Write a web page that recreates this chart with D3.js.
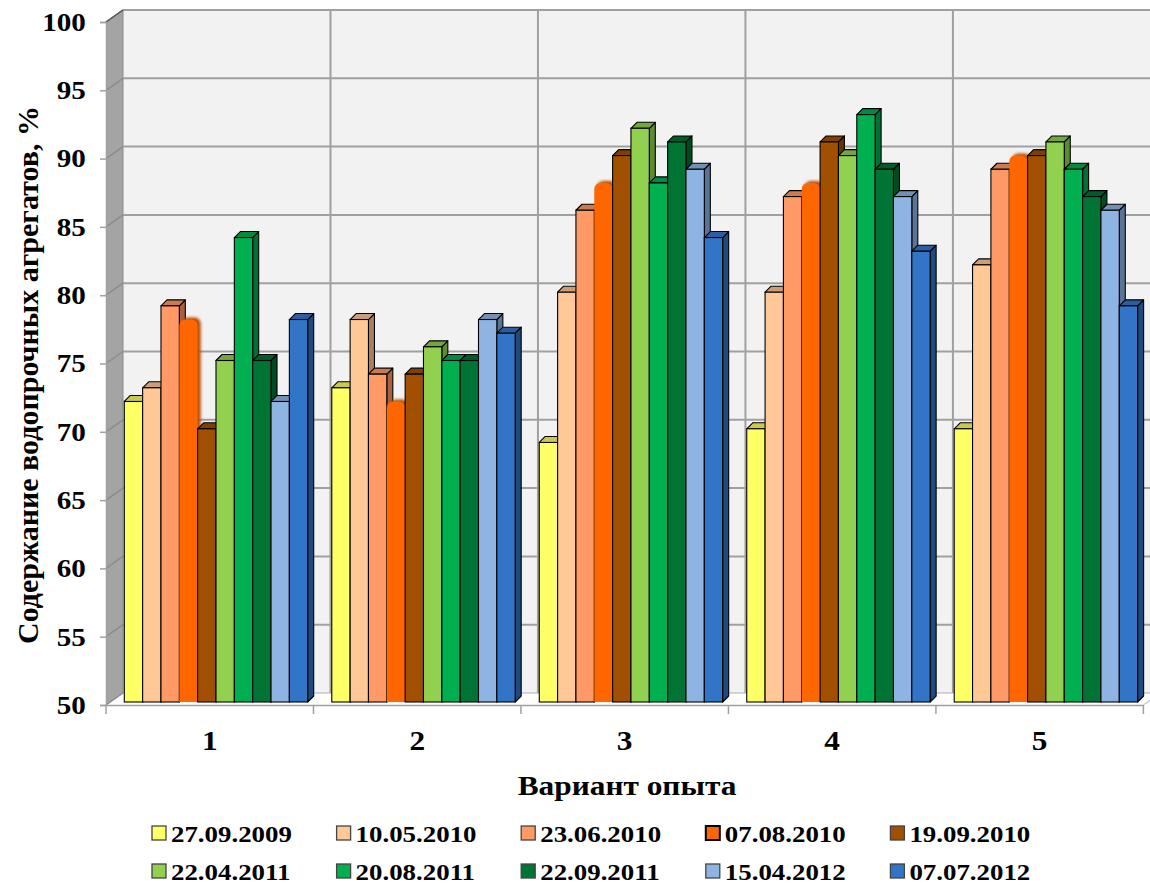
<!DOCTYPE html>
<html>
<head>
<meta charset="utf-8">
<script src="https://cdn.jsdelivr.net/npm/d3@7/dist/d3.min.js"></script>
<style>
  html, body { margin: 0; padding: 0; background: #ffffff; }
  svg { display: block; }
  text { font-family: "Liberation Serif", "Times New Roman", Times, serif; font-weight: bold; fill: #000; }
</style>
</head>
<body>
<svg id="chart" width="1150" height="885"></svg>
<script>
// ---- data ----
const categories = ["1", "2", "3", "4", "5"];
const seriesNames = ["27.09.2009", "10.05.2010", "23.06.2010", "07.08.2010", "19.09.2010",
                     "22.04.2011", "20.08.2011", "22.09.2011", "15.04.2012", "07.07.2012"];
const v_27_09_2009 = [72, 73, 69, 70, 70];
const v_10_05_2010 = [73, 78, 80, 80, 82];
const v_23_06_2010 = [79, 74, 86, 87, 89];
const v_07_08_2010 = [78, 72, 88, 88, 90];
const v_19_09_2010 = [70, 74, 90, 91, 90];
const v_22_04_2011 = [75, 76, 92, 90, 91];
const v_20_08_2011 = [84, 75, 88, 93, 89];
const v_22_09_2011 = [75, 75, 91, 89, 87];
const v_15_04_2012 = [72, 78, 89, 87, 86];
const v_07_07_2012 = [78, 77, 84, 83, 79];
const yTicks = [50, 55, 60, 65, 70, 75, 80, 85, 90, 95, 100];
const yTitle = "Содержание водопрочных агрегатов, %";
const xTitle = "Вариант опыта";

const seriesValues = [v_27_09_2009, v_10_05_2010, v_23_06_2010, v_07_08_2010, v_19_09_2010,
                      v_22_04_2011, v_20_08_2011, v_22_09_2011, v_15_04_2012, v_07_07_2012];

// face colours: front, top, side
const palette = [
  ["#FFFF66", "#C9C94E", "#A3A33A"],
  ["#FFC896", "#CC9E76", "#A88060"],
  ["#FF9966", "#CC7A50", "#A86040"],
  ["#FF6600", "#E05A00", "#B84A00"],
  ["#A05000", "#7E3F00", "#663300"],
  ["#92D050", "#74A640", "#5E8A32"],
  ["#00B050", "#008C40", "#007034"],
  ["#007434", "#005C29", "#004A20"],
  ["#8DB4E2", "#7090B4", "#5A7496"],
  ["#3274C6", "#2A5EA0", "#1F4A80"]
];

const svg = d3.select("#chart");
const SX = 1.12;                     // horizontal text stretch
const fontFam = '"Liberation Serif", "Times New Roman", Times, serif';

// ---- scales ----
const y = d3.scaleLinear().domain([50, 100]).range([705, 22]);
const x = d3.scaleBand().domain(categories).range([106, 1143.4]);
const xs = d3.scaleBand().domain(seriesNames).range([18.3, 201.7]);

// 3D offsets
const wallDX = 17, wallDY = -12;   // back wall relative to front plane
const barDX = 0, barDY = -3;       // bar front plane
const depDX = 6, depDY = -6;       // bar depth

const xEnd = x.range()[1];

// ---- walls ----
const walls = svg.append("g");
walls.append("rect")
  .attr("x", x.range()[0] + wallDX).attr("y", y(100) + wallDY)
  .attr("width", 1150 - (x.range()[0] + wallDX) + 5)
  .attr("height", y(50) - y(100))
  .attr("fill", "#F2F2F2");
walls.append("path")
  .attr("d", d3.line()([[106, y(100)], [106 + wallDX, y(100) + wallDY],
                        [106 + wallDX, y(50) + wallDY], [106, y(50)]]))
  .attr("fill", "#A4A4A4").attr("stroke", "#8A8A8A").attr("stroke-width", 1);
walls.append("path")
  .attr("d", d3.line()([[106, y(50)], [106 + wallDX, y(50) + wallDY],
                        [xEnd + wallDX, y(50) + wallDY], [xEnd, y(50)]]))
  .attr("fill", "#FFFFFF").attr("stroke", "#B0B0B0").attr("stroke-width", 1);

walls.selectAll("line.hgrid").data(yTicks.slice(1)).join("line")
  .attr("class", "hgrid")
  .attr("x1", 106 + wallDX).attr("x2", 1150)
  .attr("y1", d => y(d) + wallDY).attr("y2", d => y(d) + wallDY)
  .attr("stroke", "#A0A0A0").attr("stroke-width", 2);
walls.selectAll("line.sgrid").data(yTicks).join("line")
  .attr("class", "sgrid")
  .attr("x1", 106).attr("x2", 106 + wallDX)
  .attr("y1", d => y(d)).attr("y2", d => y(d) + wallDY)
  .attr("stroke", "#8C8C8C").attr("stroke-width", 1.5);
walls.selectAll("line.vgrid").data(categories.slice(1)).join("line")
  .attr("class", "vgrid")
  .attr("x1", d => x(d) + wallDX).attr("x2", d => x(d) + wallDX)
  .attr("y1", y(100) + wallDY).attr("y2", y(50) + wallDY)
  .attr("stroke", "#A0A0A0").attr("stroke-width", 2);
walls.append("line")
  .attr("x1", 106).attr("y1", y(100)).attr("x2", 106 + wallDX).attr("y2", y(100) + wallDY)
  .attr("stroke", "#555").attr("stroke-width", 1.5);

// ---- y axis ----
const yAxis = d3.axisLeft(y).tickValues(yTicks).tickSize(6).tickPadding(12)
  .tickFormat(d3.format("d"));
const gy = svg.append("g").attr("transform", "translate(106,0)").call(yAxis);
gy.select(".domain").attr("stroke", "#A0A0A0").attr("stroke-width", 1.5);
gy.selectAll(".tick line").attr("stroke", "#A0A0A0").attr("stroke-width", 1.5);
gy.selectAll(".tick text")
  .attr("font-family", fontFam).attr("font-weight", "bold").attr("font-size", 26)
  .attr("fill", "#000")
  .attr("transform", `scale(${SX},1)`);

// ---- x axis ----
const gx = svg.append("g").attr("transform", `translate(0,${y(50)})`)
  .call(d3.axisBottom(x).tickSize(0).tickPadding(25));
gx.select(".domain").attr("stroke", "#A0A0A0").attr("stroke-width", 1.5);
gx.selectAll(".tick text")
  .attr("font-family", fontFam).attr("font-weight", "bold").attr("font-size", 28)
  .attr("fill", "#000")
  .attr("transform", `scale(${SX},1)`);
const bounds = categories.map(c => x(c)).concat([xEnd]);
gx.selectAll("line.btick").data(bounds).join("line")
  .attr("class", "btick")
  .attr("x1", d => d).attr("x2", d => d).attr("y1", 0).attr("y2", 9)
  .attr("stroke", "#A0A0A0").attr("stroke-width", 1.5);

// ---- bars ----
const defs = svg.append("defs");
defs.append("filter").attr("id", "soft").attr("x", "-50%").attr("y", "-20%")
  .attr("width", "200%").attr("height", "140%")
  .append("feGaussianBlur").attr("stdDeviation", 1.6);

const barsG = svg.append("g");
const bw = xs.bandwidth();
const yBottom = y(50) + barDY;

categories.forEach((cat, ci) => {
  seriesNames.forEach((s, si) => {
    const v = seriesValues[si][ci];
    const x0 = x(cat) + xs(s) + barDX;
    const x1 = x0 + bw;
    const top = y(v) + barDY;
    const [cFront, cTop, cSide] = palette[si];
    const g = barsG.append("g");
    if (si === 3) {
      // rounded, outline-free bar with a soft shaded edge
      const r = 6;
      const rounded = (ox, oy) => {
        const p = d3.path();
        p.moveTo(x0 + ox, yBottom + oy);
        p.lineTo(x0 + ox, top + r + oy);
        p.arcTo(x0 + ox, top + oy, x0 + r + ox, top + oy, r);
        p.lineTo(x1 - r + ox, top + oy);
        p.arcTo(x1 + ox, top + oy, x1 + ox, top + r + oy, r);
        p.lineTo(x1 + ox, yBottom + oy);
        p.closePath();
        return p.toString();
      };
      g.append("path").attr("d", rounded(3, -2)).attr("fill", cSide).attr("filter", "url(#soft)");
      g.append("path").attr("d", rounded(0, 0)).attr("fill", cFront);
      return;
    }
    g.append("path")
      .attr("d", d3.line()([[x1, top], [x1 + depDX, top + depDY], [x1 + depDX, yBottom + depDY], [x1, yBottom]]) + "Z")
      .attr("fill", cSide).attr("stroke", "#000").attr("stroke-width", 1.1).attr("stroke-linejoin", "round");
    g.append("path")
      .attr("d", d3.line()([[x0, top], [x0 + depDX, top + depDY], [x1 + depDX, top + depDY], [x1, top]]) + "Z")
      .attr("fill", cTop).attr("stroke", "#000").attr("stroke-width", 1.1).attr("stroke-linejoin", "round");
    g.append("rect")
      .attr("x", x0).attr("y", top).attr("width", bw).attr("height", yBottom - top)
      .attr("fill", cFront).attr("stroke", "#000").attr("stroke-width", 1.1);
  });
});

// ---- titles ----
svg.append("text")
  .attr("transform", `translate(27,375) rotate(-90)`)
  .attr("text-anchor", "middle").attr("dominant-baseline", "central")
  .attr("font-size", 30)
  .text(yTitle);

svg.append("text")
  .attr("transform", `translate(627,795) scale(${SX},1)`)
  .attr("text-anchor", "middle")
  .attr("font-size", 28)
  .text(xTitle);

// ---- legend ----
const legend = svg.append("g");
seriesNames.forEach((s, i) => {
  const col = i % 5, row = Math.floor(i / 5);
  const lx = 152 + col * 184.6;
  const ly = 826 + row * 38;
  const g = legend.append("g").attr("transform", `translate(${lx},${ly})`);
  g.append("rect").attr("x", 0).attr("y", 0).attr("width", 14).attr("height", 14)
    .attr("fill", palette[i][0])
    .attr("stroke", i === 3 ? "#000" : "#444")
    .attr("stroke-width", i === 3 ? 2 : 1.3);
  g.append("text")
    .attr("transform", `translate(19,15.5) scale(${SX},1)`)
    .attr("font-size", 24)
    .text(s);
});
</script>
</body>
</html>
